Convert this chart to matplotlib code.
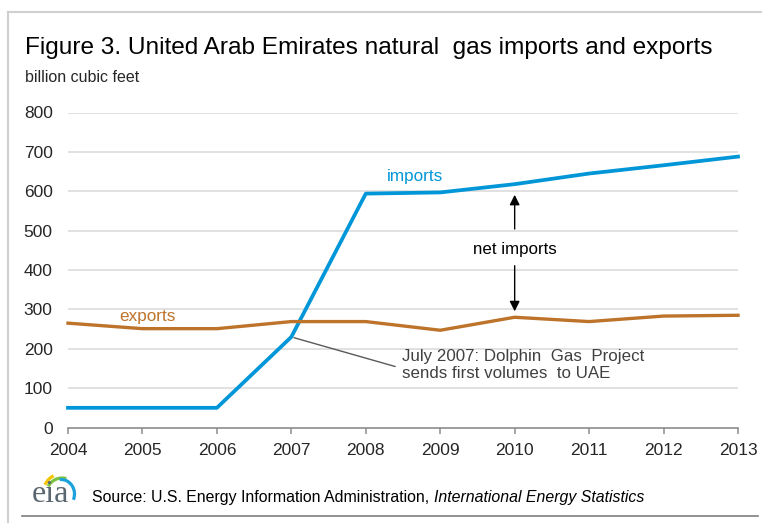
import numpy as np
import matplotlib
matplotlib.use("Agg")
from matplotlib import pyplot as plt
from matplotlib.patches import Arc
from matplotlib.lines import Line2D

years = [2004, 2005, 2006, 2007, 2008, 2009, 2010, 2011, 2012, 2013]
imports = [50, 50, 50, 230, 594, 597, 618, 645, 666, 688]
exports = [265, 251, 251, 269, 269, 247, 280, 269, 283, 285]
yticks = [0, 100, 200, 300, 400, 500, 600, 700, 800]

blue = '#0096d7'
brown = '#bd732a'
text_col = '#262626'

plt.rcParams['font.family'] = ['Liberation Sans', 'DejaVu Sans']

W, H = 762, 523
fig = plt.figure(figsize=(W / 100, H / 100), dpi=100)

def fx(px):
    return px / W

def fy(py):
    return 1 - py / H

ax = fig.add_axes([fx(68), fy(427.5), fx(738) - fx(68), fy(112.5) - fy(427.5)])
ax.set_xlim(2004, 2013)
ax.set_ylim(0, 800)

for v in yticks[1:]:
    ax.axhline(v, color='#d9d9d9', lw=1.1, zorder=1)

ax.plot(years, imports, color=blue, lw=2.7, zorder=3, clip_on=False)
ax.plot(years, exports, color=brown, lw=2.4, zorder=3, clip_on=False)

for s in ['top', 'right', 'left']:
    ax.spines[s].set_visible(False)
ax.spines['bottom'].set_color('#8c8c8c')
ax.spines['bottom'].set_linewidth(1.2)

ax.set_xticks(years)
ax.set_xticklabels([str(y) for y in years])
ax.set_yticks(yticks)
ax.tick_params(axis='x', length=4, width=1.1, color='#8c8c8c', pad=7,
               labelsize=12.5, labelcolor=text_col)
ax.tick_params(axis='y', length=0, pad=11, labelsize=12.5, labelcolor=text_col)

# series labels
ax.text(2008.66, 637, 'imports', color=blue, fontsize=12.3, ha='center', va='center')
ax.text(2005.07, 281, 'exports', color=brown, fontsize=12.3, ha='center', va='center')

# net imports arrows
ax.text(2010.0, 451, 'net imports', color='black', fontsize=12.2, ha='center', va='center')
ax.annotate('', xy=(2010.0, 598), xytext=(2010.0, 497),
            arrowprops=dict(arrowstyle='-|>', color='black', lw=1, mutation_scale=15))
ax.annotate('', xy=(2010.0, 288), xytext=(2010.0, 418),
            arrowprops=dict(arrowstyle='-|>', color='black', lw=1, mutation_scale=15))

# dolphin note
ax.annotate('', xy=(2007.0, 230), xytext=(2008.43, 153),
            arrowprops=dict(arrowstyle='-', color='#595959', lw=1))
ax.text(2008.49, 158, 'July 2007: Dolphin  Gas  Project\nsends first volumes  to UAE',
        color='#404040', fontsize=12.2, ha='left', va='center', linespacing=1.2)

# titles
fig.text(fx(25), fy(54), 'Figure 3. United Arab Emirates natural  gas imports and exports',
         fontsize=17.6, color='black', ha='left', va='baseline')
fig.text(fx(25), fy(82), 'billion cubic feet', fontsize=11.5, color=text_col,
         ha='left', va='baseline')

# source
src = fig.text(fx(92), fy(502), 'Source: U.S. Energy Information Administration, ',
               fontsize=11.4, color='black', ha='left', va='baseline')
fig.canvas.draw()
bb = src.get_window_extent()
fig.text(bb.x1 / W, fy(502), 'International Energy Statistics', fontsize=11.4,
         style='italic', color='black', ha='left', va='baseline')

# eia logo, drawn in pixel units
lax = fig.add_axes([fx(25), fy(508), fx(82) - fx(25), fy(466) - fy(508)])
lax.set_xlim(25, 82)
lax.set_ylim(H - 508, H - 466)
lax.axis('off')
lax.text(32, H - 502, 'eia', fontsize=23, family='Liberation Serif', color='#5b6770',
         ha='left', va='baseline')
lax.add_patch(Arc((61, H - 494), 36, 40, theta1=112, theta2=150, color='#f2c500', lw=2.3))
lax.add_patch(Arc((62, H - 495), 32, 34, theta1=75, theta2=148, color='#7cc242', lw=2.3))
lax.add_patch(Arc((61, H - 494), 27, 29, theta1=-25, theta2=95, color='#1ba1dc', lw=2.3))

# frame
fig.add_artist(Line2D([fx(8), fx(8)], [fy(12), fy(523)], color='#d0d0d0', lw=1.5))
fig.add_artist(Line2D([fx(8), fx(762)], [fy(12), fy(12)], color='#d0d0d0', lw=1.5))
fig.add_artist(Line2D([fx(22), fx(758)], [fy(516), fy(516)], color='#7f7f7f', lw=1.2))

fig.savefig('out.png', dpi=100)
